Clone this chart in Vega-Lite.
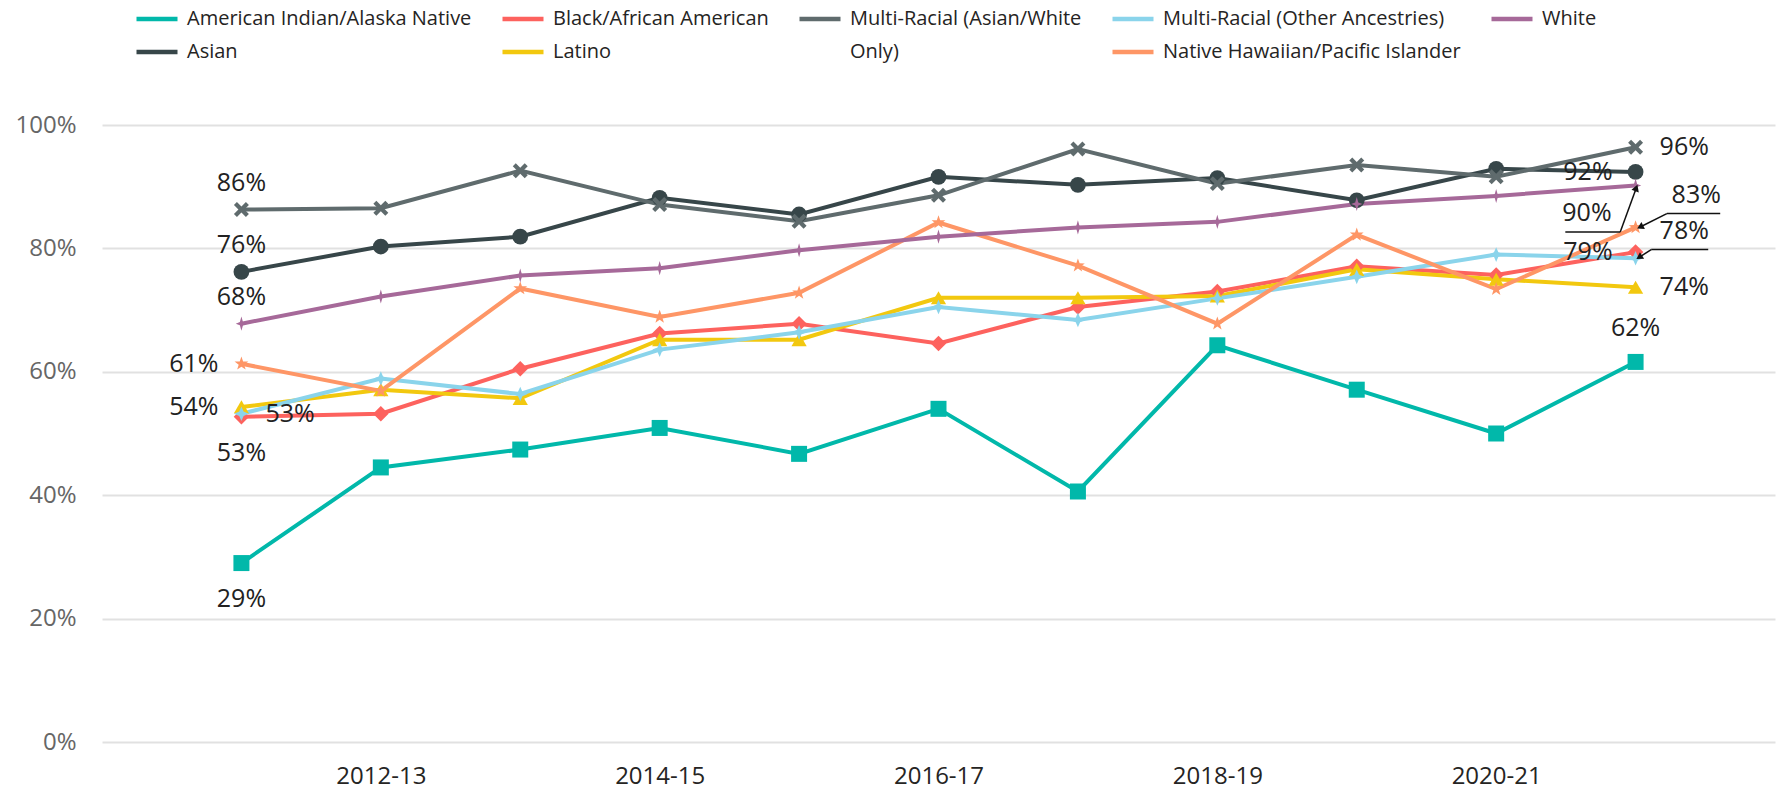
{
  "$schema": "https://vega.github.io/schema/vega-lite/v6.json",
  "width": 1673,
  "height": 617,
  "autosize": {"type": "none"},
  "padding": {"left": 102, "top": 125, "right": 7, "bottom": 48},
  "background": "white",
  "config": {"view": {"stroke": null}, "font": "Open Sans"},
  "datasets": {
    "rates": [
      {"group": "American Indian/Alaska Native", "year": 2011, "rate": 0.290},
      {"group": "American Indian/Alaska Native", "year": 2012, "rate": 0.445},
      {"group": "American Indian/Alaska Native", "year": 2013, "rate": 0.474},
      {"group": "American Indian/Alaska Native", "year": 2014, "rate": 0.509},
      {"group": "American Indian/Alaska Native", "year": 2015, "rate": 0.467},
      {"group": "American Indian/Alaska Native", "year": 2016, "rate": 0.540},
      {"group": "American Indian/Alaska Native", "year": 2017, "rate": 0.406},
      {"group": "American Indian/Alaska Native", "year": 2018, "rate": 0.643},
      {"group": "American Indian/Alaska Native", "year": 2019, "rate": 0.571},
      {"group": "American Indian/Alaska Native", "year": 2020, "rate": 0.500},
      {"group": "American Indian/Alaska Native", "year": 2021, "rate": 0.616},
      {"group": "Asian", "year": 2011, "rate": 0.762},
      {"group": "Asian", "year": 2012, "rate": 0.803},
      {"group": "Asian", "year": 2013, "rate": 0.819},
      {"group": "Asian", "year": 2014, "rate": 0.882},
      {"group": "Asian", "year": 2015, "rate": 0.855},
      {"group": "Asian", "year": 2016, "rate": 0.916},
      {"group": "Asian", "year": 2017, "rate": 0.903},
      {"group": "Asian", "year": 2018, "rate": 0.914},
      {"group": "Asian", "year": 2019, "rate": 0.878},
      {"group": "Asian", "year": 2020, "rate": 0.929},
      {"group": "Asian", "year": 2021, "rate": 0.924},
      {"group": "Black/African American", "year": 2011, "rate": 0.527},
      {"group": "Black/African American", "year": 2012, "rate": 0.532},
      {"group": "Black/African American", "year": 2013, "rate": 0.605},
      {"group": "Black/African American", "year": 2014, "rate": 0.662},
      {"group": "Black/African American", "year": 2015, "rate": 0.678},
      {"group": "Black/African American", "year": 2016, "rate": 0.646},
      {"group": "Black/African American", "year": 2017, "rate": 0.705},
      {"group": "Black/African American", "year": 2018, "rate": 0.730},
      {"group": "Black/African American", "year": 2019, "rate": 0.771},
      {"group": "Black/African American", "year": 2020, "rate": 0.757},
      {"group": "Black/African American", "year": 2021, "rate": 0.794},
      {"group": "Latino", "year": 2011, "rate": 0.543},
      {"group": "Latino", "year": 2012, "rate": 0.571},
      {"group": "Latino", "year": 2013, "rate": 0.557},
      {"group": "Latino", "year": 2014, "rate": 0.652},
      {"group": "Latino", "year": 2015, "rate": 0.652},
      {"group": "Latino", "year": 2016, "rate": 0.720},
      {"group": "Latino", "year": 2017, "rate": 0.720},
      {"group": "Latino", "year": 2018, "rate": 0.723},
      {"group": "Latino", "year": 2019, "rate": 0.766},
      {"group": "Latino", "year": 2020, "rate": 0.750},
      {"group": "Latino", "year": 2021, "rate": 0.737},
      {"group": "Multi-Racial (Asian/White Only)", "year": 2011, "rate": 0.863},
      {"group": "Multi-Racial (Asian/White Only)", "year": 2012, "rate": 0.865},
      {"group": "Multi-Racial (Asian/White Only)", "year": 2013, "rate": 0.926},
      {"group": "Multi-Racial (Asian/White Only)", "year": 2014, "rate": 0.871},
      {"group": "Multi-Racial (Asian/White Only)", "year": 2015, "rate": 0.844},
      {"group": "Multi-Racial (Asian/White Only)", "year": 2016, "rate": 0.886},
      {"group": "Multi-Racial (Asian/White Only)", "year": 2017, "rate": 0.961},
      {"group": "Multi-Racial (Asian/White Only)", "year": 2018, "rate": 0.905},
      {"group": "Multi-Racial (Asian/White Only)", "year": 2019, "rate": 0.935},
      {"group": "Multi-Racial (Asian/White Only)", "year": 2020, "rate": 0.916},
      {"group": "Multi-Racial (Asian/White Only)", "year": 2021, "rate": 0.964},
      {"group": "Multi-Racial (Other Ancestries)", "year": 2011, "rate": 0.532},
      {"group": "Multi-Racial (Other Ancestries)", "year": 2012, "rate": 0.589},
      {"group": "Multi-Racial (Other Ancestries)", "year": 2013, "rate": 0.564},
      {"group": "Multi-Racial (Other Ancestries)", "year": 2014, "rate": 0.636},
      {"group": "Multi-Racial (Other Ancestries)", "year": 2015, "rate": 0.664},
      {"group": "Multi-Racial (Other Ancestries)", "year": 2016, "rate": 0.705},
      {"group": "Multi-Racial (Other Ancestries)", "year": 2017, "rate": 0.684},
      {"group": "Multi-Racial (Other Ancestries)", "year": 2018, "rate": 0.719},
      {"group": "Multi-Racial (Other Ancestries)", "year": 2019, "rate": 0.754},
      {"group": "Multi-Racial (Other Ancestries)", "year": 2020, "rate": 0.790},
      {"group": "Multi-Racial (Other Ancestries)", "year": 2021, "rate": 0.784},
      {"group": "Native Hawaiian/Pacific Islander", "year": 2011, "rate": 0.613},
      {"group": "Native Hawaiian/Pacific Islander", "year": 2012, "rate": 0.569},
      {"group": "Native Hawaiian/Pacific Islander", "year": 2013, "rate": 0.735},
      {"group": "Native Hawaiian/Pacific Islander", "year": 2014, "rate": 0.689},
      {"group": "Native Hawaiian/Pacific Islander", "year": 2015, "rate": 0.728},
      {"group": "Native Hawaiian/Pacific Islander", "year": 2016, "rate": 0.842},
      {"group": "Native Hawaiian/Pacific Islander", "year": 2017, "rate": 0.772},
      {"group": "Native Hawaiian/Pacific Islander", "year": 2018, "rate": 0.678},
      {"group": "Native Hawaiian/Pacific Islander", "year": 2019, "rate": 0.822},
      {"group": "Native Hawaiian/Pacific Islander", "year": 2020, "rate": 0.734},
      {"group": "Native Hawaiian/Pacific Islander", "year": 2021, "rate": 0.834},
      {"group": "White", "year": 2011, "rate": 0.678},
      {"group": "White", "year": 2012, "rate": 0.722},
      {"group": "White", "year": 2013, "rate": 0.756},
      {"group": "White", "year": 2014, "rate": 0.768},
      {"group": "White", "year": 2015, "rate": 0.797},
      {"group": "White", "year": 2016, "rate": 0.819},
      {"group": "White", "year": 2017, "rate": 0.834},
      {"group": "White", "year": 2018, "rate": 0.843},
      {"group": "White", "year": 2019, "rate": 0.872},
      {"group": "White", "year": 2020, "rate": 0.885},
      {"group": "White", "year": 2021, "rate": 0.902}
    ],
    "leaders": [
      {"x": 2020.496, "y": 0.8266, "x2": 2020.890, "y2": 0.8266},
      {"x": 2020.890, "y": 0.8266, "x2": 2021.005, "y2": 0.8979},
      {"x": 2021.607, "y": 0.8564, "x2": 2021.224, "y2": 0.8564},
      {"x": 2021.224, "y": 0.8564, "x2": 2021.033, "y2": 0.8347},
      {"x": 2021.521, "y": 0.7981, "x2": 2021.112, "y2": 0.7981},
      {"x": 2021.112, "y": 0.7981, "x2": 2021.026, "y2": 0.7856}
    ]
  },
  "data": {"name": "rates"},
  "encoding": {
    "x": {
      "field": "year", "type": "quantitative",
      "scale": {"domain": [2010, 2022], "nice": false, "zero": false},
      "axis": {
        "title": null, "values": [2012, 2014, 2016, 2018, 2020],
        "labelExpr": "datum.value + '-' + substring(toString(datum.value + 1), 2)",
        "grid": false, "ticks": false, "domain": false,
        "labelFont": "Liberation Sans Narrow, Open Sans", "labelFontSize": 24,
        "labelColor": "#252423", "labelPadding": 22
      }
    },
    "y": {
      "field": "rate", "type": "quantitative",
      "scale": {"domain": [0, 1], "nice": false},
      "axis": {
        "title": null, "values": [0, 0.2, 0.4, 0.6, 0.8, 1], "format": ".0%",
        "grid": true, "gridColor": "#E1E1E1", "gridWidth": 2,
        "ticks": false, "domain": false,
        "labelFont": "Open Sans", "labelFontSize": 24, "labelColor": "#666666",
        "labelPadding": 26
      }
    }
  },
  "layer": [
    {
      "mark": {"type": "line", "strokeWidth": 4},
      "encoding": {
        "color": {
          "field": "group", "type": "nominal",
          "scale": {
            "domain": ["American Indian/Alaska Native", "Black/African American", "Multi-Racial (Asian/White Only)", "Multi-Racial (Other Ancestries)", "White", "Asian", "Latino", "Only)", "Native Hawaiian/Pacific Islander"],
            "range": ["#01B8AA", "#FD625E", "#5F6B6D", "#8AD4EB", "#A66999", "#374649", "#F2C80F", "rgba(0,0,0,0)", "#FE9666"]
          },
          "legend": {
            "title": null, "orient": "none", "legendX": 32, "legendY": -129,
            "direction": "horizontal", "columns": 5, "columnPadding": 21, "rowPadding": -4,
            "padding": 0,
            "symbolType": "stroke", "symbolStrokeWidth": 4.5, "symbolSize": 1681,
            "labelFont": "Open Sans", "labelFontSize": 20, "labelColor": "#252423",
            "labelOffset": 7, "labelLimit": 500,
            "labelExpr": "datum.label == 'Multi-Racial (Asian/White Only)' ? 'Multi-Racial (Asian/White' : datum.label"
          }
        }
      }
    },
    {
      "mark": {"type": "point", "filled": true, "opacity": 1},
      "encoding": {
        "color": {"field": "group", "type": "nominal", "legend": null},
        "shape": {
          "field": "group", "type": "nominal", "legend": null,
          "scale": {
            "domain": ["American Indian/Alaska Native", "Asian", "Black/African American", "Latino", "Multi-Racial (Asian/White Only)", "Multi-Racial (Other Ancestries)", "Native Hawaiian/Pacific Islander", "White"],
            "range": ["square", "circle", "diamond", "triangle-up",
              "M-1,-0.6L-0.6,-1L0,-0.4L0.6,-1L1,-0.6L0.4,0L1,0.6L0.6,1L0,0.4L-0.6,1L-1,0.6L-0.4,0Z",
              "M0,-1L0.3,-0.3L1,0L0.3,0.3L0,1L-0.3,0.3L-1,0L-0.3,-0.3Z",
              "M0,-1L0.235,-0.324L0.951,-0.309L0.38,0.124L0.588,0.809L0,0.4L-0.588,0.809L-0.38,0.124L-0.951,-0.309L-0.235,-0.324Z",
              "M0,-1L0.22,-0.22L0.8,0L0.22,0.22L0,1L-0.22,0.22L-0.8,0L-0.22,-0.22Z"]
          }
        },
        "size": {
          "field": "group", "type": "nominal", "legend": null,
          "scale": {
            "domain": ["American Indian/Alaska Native", "Asian", "Black/African American", "Latino", "Multi-Racial (Asian/White Only)", "Multi-Racial (Other Ancestries)", "Native Hawaiian/Pacific Islander", "White"],
            "range": [256, 200, 190, 200, 250, 300, 320, 280]
          }
        }
      }
    },
    {
      "transform": [{"filter": "datum.year == 2011 && indexof(['Multi-Racial (Asian/White Only)', 'Asian', 'White'], datum.group) >= 0"}],
      "mark": {"type": "text", "fontSize": 25, "font": "Open Sans", "color": "#222222", "baseline": "middle", "align": "center", "dy": -27},
      "encoding": {"text": {"field": "rate", "format": ".0%"}}
    },
    {
      "transform": [{"filter": "datum.year == 2011 && indexof(['Black/African American', 'American Indian/Alaska Native'], datum.group) >= 0"}],
      "mark": {"type": "text", "fontSize": 25, "font": "Open Sans", "color": "#222222", "baseline": "middle", "align": "center", "dy": 36},
      "encoding": {"text": {"field": "rate", "format": ".0%"}}
    },
    {
      "transform": [{"filter": "datum.year == 2021 && datum.group == 'American Indian/Alaska Native'"}],
      "mark": {"type": "text", "fontSize": 25, "font": "Open Sans", "color": "#222222", "baseline": "middle", "align": "center", "dy": -34},
      "encoding": {"text": {"field": "rate", "format": ".0%"}}
    },
    {
      "transform": [{"filter": "(datum.year == 2011 && indexof(['Native Hawaiian/Pacific Islander', 'Latino'], datum.group) >= 0) || (datum.year == 2021 && indexof(['Asian', 'Black/African American'], datum.group) >= 0)"}],
      "mark": {"type": "text", "fontSize": 25, "font": "Open Sans", "color": "#222222", "baseline": "middle", "align": "right", "dx": -23},
      "encoding": {"text": {"field": "rate", "format": ".0%"}}
    },
    {
      "transform": [{"filter": "(datum.year == 2011 && datum.group == 'Multi-Racial (Other Ancestries)') || (datum.year == 2021 && indexof(['Multi-Racial (Asian/White Only)', 'Latino'], datum.group) >= 0)"}],
      "mark": {"type": "text", "fontSize": 25, "font": "Open Sans", "color": "#222222", "baseline": "middle", "align": "left", "dx": 24},
      "encoding": {"text": {"field": "rate", "format": ".0%"}}
    },
    {
      "transform": [{"filter": "datum.year == 2021 && datum.group == 'White'"}],
      "mark": {"type": "text", "fontSize": 25, "font": "Open Sans", "color": "#222222", "baseline": "middle", "align": "right", "dx": -24, "dy": 28},
      "encoding": {"text": {"field": "rate", "format": ".0%"}}
    },
    {
      "transform": [{"filter": "datum.year == 2021 && datum.group == 'Native Hawaiian/Pacific Islander'"}],
      "mark": {"type": "text", "fontSize": 25, "font": "Open Sans", "color": "#222222", "baseline": "middle", "align": "left", "dx": 36, "dy": -32},
      "encoding": {"text": {"field": "rate", "format": ".0%"}}
    },
    {
      "transform": [{"filter": "datum.year == 2021 && datum.group == 'Multi-Racial (Other Ancestries)'"}],
      "mark": {"type": "text", "fontSize": 25, "font": "Open Sans", "color": "#222222", "baseline": "middle", "align": "left", "dx": 24, "dy": -27},
      "encoding": {"text": {"field": "rate", "format": ".0%"}}
    },
    {
      "data": {"name": "leaders"},
      "mark": {"type": "rule", "color": "#111111", "strokeWidth": 1.5},
      "encoding": {
        "x": {"field": "x", "type": "quantitative"},
        "y": {"field": "y", "type": "quantitative"},
        "x2": {"field": "x2"},
        "y2": {"field": "y2"}
      }
    },
    {
      "data": {"name": "leaders"},
      "transform": [
        {"filter": "datum.y != datum.y2"},
        {"calculate": "atan2((datum.x2 - datum.x) * 139.4, (datum.y2 - datum.y) * 617) * 180 / PI", "as": "heading"}
      ],
      "mark": {"type": "point", "shape": "triangle-up", "filled": true, "color": "#111111", "opacity": 1, "size": 60},
      "encoding": {
        "x": {"field": "x2", "type": "quantitative"},
        "y": {"field": "y2", "type": "quantitative"},
        "angle": {"field": "heading", "type": "quantitative", "scale": null}
      }
    }
  ]
}
